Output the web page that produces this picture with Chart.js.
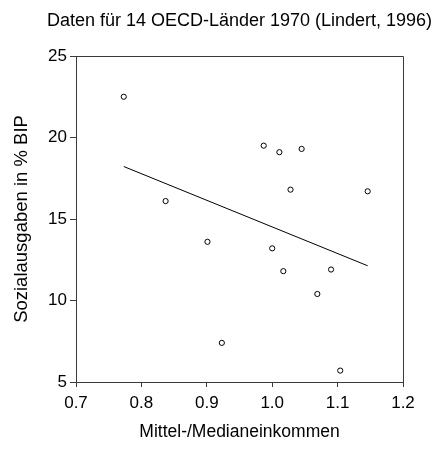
<!DOCTYPE html>
<html>
<head>
<meta charset="utf-8">
<script src="https://cdn.jsdelivr.net/npm/chart.js@4/dist/chart.umd.min.js"></script>
<style>
  html, body { margin: 0; padding: 0; background: #ffffff; }
  #c { display: block; }
</style>
</head>
<body>
<canvas id="c" width="436" height="462"></canvas>
<script>
// ---- data ----
const ratioIncome = [0.773, 0.837, 0.901, 0.923, 0.987, 1.011, 1.045, 1.028, 1.146, 1.000, 1.017, 1.090, 1.069, 1.104];
const socialSpending = [22.5, 16.1, 13.6, 7.4, 19.5, 19.1, 19.3, 16.8, 16.7, 13.2, 11.8, 11.9, 10.4, 5.7];
const fitX = [0.773, 1.146];
const fitY = [18.22, 12.13];
const xTicks = [0.7, 0.8, 0.9, 1.0, 1.1, 1.2];
const yTicks = [5, 10, 15, 20, 25];
const titleText = 'Daten für 14 OECD-Länder 1970 (Lindert, 1996)';
const xLabel = 'Mittel-/Medianeinkommen';
const yLabel = 'Sozialausgaben in % BIP';

const FONT = "'Liberation Sans', Arial, sans-serif";
const AXIS = '#3a3a3a';

// frame (top/right edges) + title centred over the plot area
const framePlugin = {
  id: 'framePlugin',
  afterDatasetsDraw(chart) {
    const { ctx, chartArea: a } = chart;
    ctx.save();
    ctx.strokeStyle = AXIS;
    ctx.lineWidth = 1;
    ctx.beginPath();
    ctx.moveTo(a.left, a.top + 0.5);
    ctx.lineTo(a.right + 0.5, a.top + 0.5);
    ctx.lineTo(a.right + 0.5, a.bottom);
    ctx.stroke();
    ctx.restore();
  },
  afterDraw(chart) {
    const { ctx, chartArea: a } = chart;
    ctx.save();
    ctx.fillStyle = '#000000';
    ctx.font = "18px " + FONT;
    ctx.textAlign = 'center';
    ctx.textBaseline = 'middle';
    ctx.fillText(titleText, (a.left + a.right) / 2, 21);
    ctx.restore();
  }
};

new Chart(document.getElementById('c'), {
  type: 'scatter',
  data: {
    datasets: [
      {
        type: 'scatter',
        data: ratioIncome.map((x, i) => ({ x, y: socialSpending[i] })),
        pointRadius: 2.6,
        pointBorderWidth: 1,
        pointBorderColor: '#000000',
        pointBackgroundColor: '#ffffff',
        pointHoverRadius: 2.6
      },
      {
        type: 'line',
        data: fitX.map((x, i) => ({ x, y: fitY[i] })),
        borderColor: '#000000',
        borderWidth: 1,
        pointRadius: 0,
        fill: false,
        tension: 0
      }
    ]
  },
  options: {
    responsive: false,
    animation: false,
    devicePixelRatio: 1,
    layout: { padding: { left: 0, right: 33, top: 56, bottom: 0 } },
    plugins: {
      legend: { display: false },
      tooltip: { enabled: false },
      title: { display: false }
    },
    scales: {
      x: {
        type: 'linear',
        min: 0.7,
        max: 1.2,
        afterBuildTicks: (s) => { s.ticks = xTicks.map(v => ({ value: v })); },
        afterFit: (s) => { s.height = 80; },
        ticks: {
          color: '#000000',
          font: { family: FONT, size: 17 },
          padding: 6,
          maxRotation: 0,
          callback: (v) => Number(v).toFixed(1)
        },
        grid: { drawOnChartArea: false, drawTicks: true, tickLength: 5, color: AXIS },
        border: { display: true, color: AXIS, width: 1 },
        title: {
          display: true,
          text: xLabel,
          color: '#000000',
          font: { family: FONT, size: 17.5 },
          padding: { top: 0, bottom: 19 }
        }
      },
      y: {
        type: 'linear',
        min: 5,
        max: 25,
        afterBuildTicks: (s) => { s.ticks = yTicks.map(v => ({ value: v })); },
        afterFit: (s) => { s.width = 76; },
        ticks: {
          color: '#000000',
          font: { family: FONT, size: 17 },
          padding: 3
        },
        grid: { drawOnChartArea: false, drawTicks: true, tickLength: 6, color: AXIS },
        border: { display: true, color: AXIS, width: 1 },
        title: {
          display: true,
          text: yLabel,
          color: '#000000',
          font: { family: FONT, size: 18.5 },
          padding: { top: 11, bottom: 0 }
        }
      }
    }
  },
  plugins: [framePlugin]
});
</script>
</body>
</html>
